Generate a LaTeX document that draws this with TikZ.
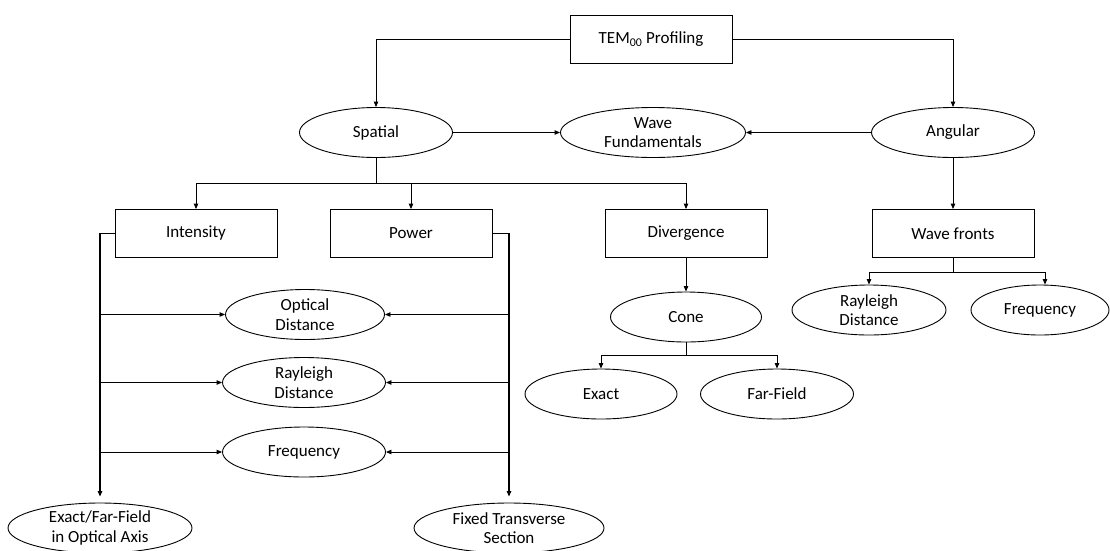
\documentclass[tikz,border=0pt]{standalone}
\usepackage{fontspec}
\setmainfont{Carlito}
\usetikzlibrary{arrows.meta,shapes.geometric}

\tikzset{
  caja/.style={draw, minimum width=162pt, minimum height=48pt, inner sep=0pt,
    font=\fontsize{17}{19.5}\selectfont},
  elipse/.style={draw, ellipse, inner sep=0pt, minimum width=160pt, minimum height=50pt,
    align=center, font=\fontsize{17}{19.5}\selectfont},
  flecha/.style={-{Triangle[length=5.5pt,width=4.5pt]}},
  grueso/.style={line width=1.25pt},
}

\begin{document}
\begin{tikzpicture}[x=1pt,y=-1pt,line width=0.9pt]
%marco de la figura
\useasboundingbox (0,0) rectangle (1110,550);
\clip (0,0) rectangle (1110,550);

%nodos de arriba
\node[caja] (tem) at (651,39) {TEM\textsubscript{00} Profiling};
\node[elipse, minimum width=153pt] (spatial) at (376,132.5) {Spatial};
\node[elipse, minimum width=185pt] (wavef) at (653,132.5) {Wave\\Fundamentals};
\node[elipse, minimum width=163pt] (angular) at (953,132.5) {Angular};

%cajas del segundo nivel
\node[caja] (intens) at (196,233.5) {Intensity};
\node[caja] (power) at (411,233.5) {Power};
\node[caja] (diverg) at (686,233.5) {Divergence};
\node[caja] (wfronts) at (953,233.5) {Wave fronts};

%elipses del centro
\node[elipse, minimum width=159pt] (optdist) at (305,314.5) {Optical\\Distance};
\node[elipse, minimum width=163pt] (rayl) at (304,382.5) {Rayleigh\\Distance};
\node[elipse, minimum width=163pt] (freq) at (304,452) {Frequency};
\node[elipse, minimum width=184pt] (exff) at (100,528) {Exact/Far-Field\\in Optical Axis};
\node[elipse, minimum width=190pt] (fixed) at (509,528) {Fixed Transverse\\Section};

%rama de la divergencia
\node[elipse, minimum width=151pt] (cone) at (686,317) {Cone};
\node[elipse, minimum width=152pt] (exact) at (601,394) {Exact};
\node[elipse, minimum width=153pt] (farf) at (777,394) {Far-Field};

%rama de los frentes de onda
\node[elipse, minimum width=154pt] (wrayl) at (869,310) {Rayleigh\\Distance};
\node[elipse, minimum width=138pt] (wfreq) at (1040,310) {Frequency};

%flechas de arriba
\draw[flecha] (tem.west) -| (spatial.north);
\draw[flecha] (tem.east) -| (angular.north);
\draw[flecha] (spatial.east) -- (wavef.west);
\draw[flecha] (angular.west) -- (wavef.east);
\draw[flecha] (angular.south) -- (wfronts.north);

%reparto desde Spatial
\coordinate (rs) at (376,183);
\draw (spatial.south) -- (rs);
\draw[flecha] (rs) -| (intens.north);
\draw[flecha] (rs) -| (power.north);
\draw[flecha] (rs) -| (diverg.north);

%lineas laterales de Intensity y Power
\draw[flecha, grueso] (intens.west) -| ([yshift=6pt]exff.north);
\draw[flecha, grueso] (power.east) -| ([yshift=6pt]fixed.north);
\foreach \n in {optdist,rayl,freq}
{
  \draw[flecha] (\n.west -| exff.north) -- (\n.west);
  \draw[flecha] (\n.east -| fixed.north) -- (\n.east);
}

%cono
\draw[flecha] (diverg.south) -- (cone.north);
\coordinate (rc) at (686,355);
\draw (cone.south) -- (rc);
\draw[flecha] (rc) -| (exact.north);
\draw[flecha] (rc) -| (farf.north);

%frentes de onda
\coordinate (rw) at (953,272);
\draw (wfronts.south) -- (rw);
\draw[flecha] (rw) -| (wrayl.north);
\draw[flecha] (rw) -| ([xshift=5pt]wfreq.north);
\end{tikzpicture}
\end{document}
